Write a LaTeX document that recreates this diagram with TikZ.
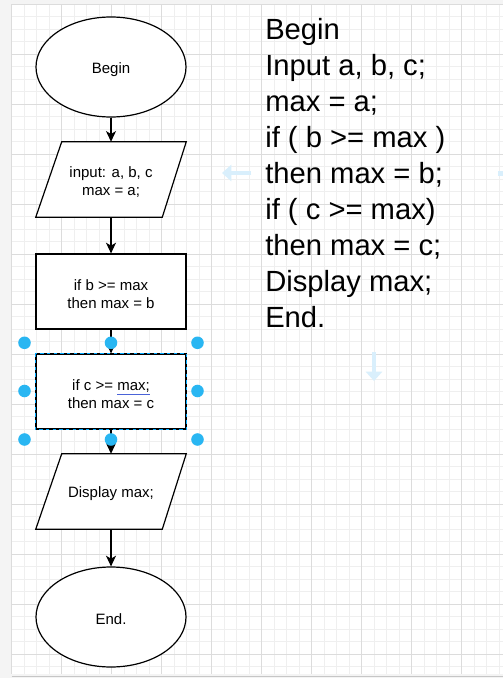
\documentclass[tikz,border=0pt]{standalone}
\usepackage{fontspec}
\setmainfont{Liberation Sans}
\usetikzlibrary{shapes.geometric,arrows.meta,calc}
\definecolor{outside}{HTML}{F4F4F4}
\definecolor{gridminor}{HTML}{EFEFEF}
\definecolor{gridmajor}{HTML}{DCDCDC}
\definecolor{handle}{HTML}{29B6F2}
\definecolor{selblue}{HTML}{00A8FF}
\definecolor{ghost}{HTML}{D9EFFC}
\definecolor{spell}{HTML}{4A63D8}
\begin{document}
\begin{tikzpicture}[x=0.75pt,y=-0.75pt,
  shapeline/.style={draw=black,line width=0.9pt},
  boxtext/.style={font=\fontsize{11.25}{13.5}\selectfont,align=center,inner sep=0pt,yshift=-1.9pt},
  termbox/.style={shapeline,ellipse,minimum width=112.5pt,minimum height=75pt,inner sep=0pt,fill=white},
  procbox/.style={shapeline,rectangle,minimum width=112.5pt,minimum height=56.25pt,inner sep=0pt,fill=white},
  iobox/.style={rectangle,minimum width=112.5pt,minimum height=56.25pt,inner sep=0pt},
  flow/.style={line width=0.9pt,-{Stealth[length=8pt,width=7.5pt,inset=2.2pt]}},
  minorline/.style={draw=gridminor,line width=0.6pt},
  majorline/.style={draw=gridmajor,line width=0.7pt},
  hdl/.style={fill=handle,draw=none},
  bigtext/.style={font=\fontsize{21.9}{27}\selectfont,anchor=base west,inner sep=0pt},
  ghostarrow/.style={draw=ghost,line width=3.5pt,-{Triangle[length=7pt,width=12pt]}}]
\useasboundingbox (0,0) rectangle (503,678);
% outside area and canvas
\fill[outside] (0,0) rectangle (503,678);
\fill[white] (11.7,4) rectangle (503,674);
\draw[draw=gray!45,line width=0.6pt] (11.7,676.8) -- (503,676.8);
% grid
\foreach \i in {0,...,39} {
  \draw[minorline] ({11.7+12.5*\i},4) -- ({11.7+12.5*\i},674);
}
\foreach \j in {0,...,53} {
  \draw[minorline] (11.7,{4+12.5*\j}) -- (503,{4+12.5*\j});
}
\foreach \i in {0,...,9} {
  \draw[majorline] ({11.7+50*\i},4) -- ({11.7+50*\i},674);
}
\foreach \j in {0,...,13} {
  \draw[majorline] (11.7,{4+50*\j}) -- (503,{4+50*\j});
}
% ghost arrows
\coordinate (ga1) at (251,173);
\coordinate (ga2) at (222,173);
\draw[ghostarrow] (ga1) -- (ga2);
\coordinate (gb1) at (374,352);
\coordinate (gb2) at (374,381);
\draw[ghostarrow] (gb1) -- (gb2);
\fill[ghost] (498,170.5) rectangle (503,175.5);
% flowchart shapes
\node[termbox] (begin) at (111,67) {};
\node[iobox] (inp) at (111,179.5) {};
\node[procbox] (ifb) at (111,291.5) {};
\node[procbox] (ifc) at (111,391.5) {};
\node[iobox] (disp) at (111,491.5) {};
\node[termbox] (endn) at (111,617) {};
% parallelogram outlines
\draw[shapeline,fill=white] ($(inp.north west)+(26,0)$) -- (inp.north east) -- ($(inp.south east)-(24,0)$) -- (inp.south west) -- cycle;
\draw[shapeline,fill=white] ($(disp.north west)+(26,0)$) -- (disp.north east) -- ($(disp.south east)-(24,0)$) -- (disp.south west) -- cycle;
% labels
\node[boxtext] (beginlbl) at (begin) {Begin};
\node[boxtext] (inplbl) at (inp) {input: a, b, c\\max = a;};
\node[boxtext] (ifblbl) at (ifb) {if b >= max\\then max = b};
\node[boxtext] (ifclbl) at (ifc) {if c >= {\color{spell}\underline{\textcolor{black}{max;}}}\\then max = c};
\node[boxtext] (displbl) at (disp) {Display max;};
\node[boxtext] (endlbl) at (endn) {End.};
% connectors
\draw[flow] (begin) -- (inp);
\draw[flow] (inp) -- (ifb);
\draw[flow] (ifb) -- (ifc);
\draw[flow] (ifc) -- (disp);
\draw[flow] (disp) -- (endn);
% selection of ifc
\draw[selblue,line width=0.9pt,dash pattern=on 2.5pt off 2.5pt] (ifc.north west) rectangle (ifc.south east);
\foreach \hx in {24.5,111,197.5} {
  \fill[hdl] (\hx,342.8) circle[radius=4.7pt];
  \fill[hdl] (\hx,439.5) circle[radius=4.7pt];
}
\fill[hdl] (24.5,391) circle[radius=4.7pt];
\fill[hdl] (197.5,391) circle[radius=4.7pt];
% pseudocode text
\node[bigtext] (t1) at (265,39) {Begin};
\node[bigtext] (t2) at (265,75) {Input a, b, c;};
\node[bigtext] (t3) at (265,111) {max = a;};
\node[bigtext] (t4) at (265,147) {if ( b >= max )};
\node[bigtext] (t5) at (265,183) {then max = b;};
\node[bigtext] (t6) at (265,219) {if ( c >= max)};
\node[bigtext] (t7) at (265,255) {then max = c;};
\node[bigtext] (t8) at (265,291) {Display max;};
\node[bigtext] (t9) at (265,327) {End.};
\end{tikzpicture}
\end{document}
